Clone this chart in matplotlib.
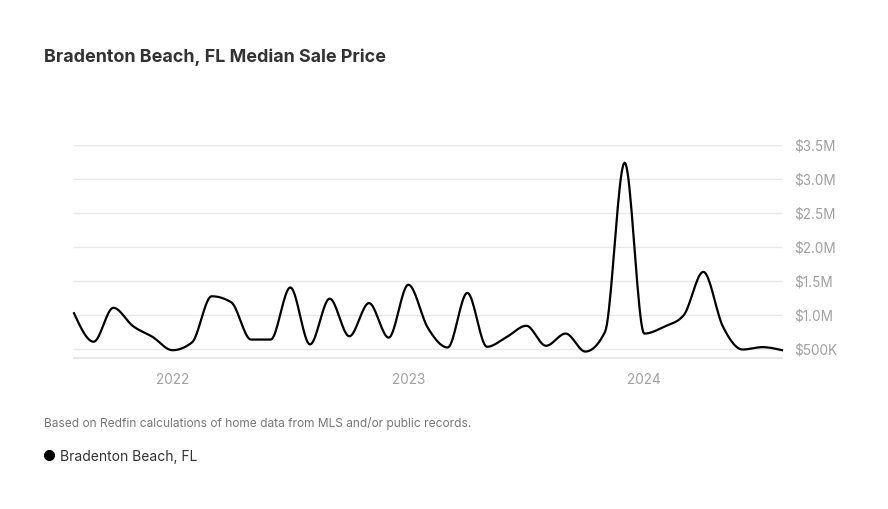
"""Bradenton Beach, FL median sale price, redrawn with matplotlib."""
import numpy as np
import matplotlib
matplotlib.use("Agg")
import matplotlib.pyplot as plt

# monthly median sale price, Aug 2021 .. Aug 2024 (USD)
months = np.arange(37)          # 0 = Aug 2021
prices = [1.02e6, 0.60e6, 1.10e6, 0.83e6, 0.67e6, 0.475e6, 0.59e6, 1.27e6,
          1.18e6, 0.632e6, 0.632e6, 1.40e6, 0.56e6, 1.235e6, 0.68e6, 1.17e6,
          0.66e6, 1.44e6, 0.80e6, 0.515e6, 1.32e6, 0.525e6, 0.67e6, 0.835e6,
          0.54e6, 0.72e6, 0.455e6, 0.745e6, 3.24e6, 0.72e6, 0.82e6, 0.99e6,
          1.63e6, 0.82e6, 0.485e6, 0.52e6, 0.475e6]
year_ticks = [5, 17, 29]
year_labels = ["2022", "2023", "2024"]
y_ticks = [0.5e6, 1.0e6, 1.5e6, 2.0e6, 2.5e6, 3.0e6, 3.5e6]
y_labels = ["$500K", "$1.0M", "$1.5M", "$2.0M", "$2.5M", "$3.0M", "$3.5M"]

FONT = "Inter"
GREY = "#a0a0a0"


def monotone_curve(x, y, n=20):
    """d3-style monotoneX cubic through the points (drawing only)."""
    x = np.asarray(x, float); y = np.asarray(y, float)
    h = np.diff(x); s = np.diff(y) / h
    m = np.zeros_like(y)
    for i in range(1, len(y) - 1):
        if s[i - 1] * s[i] > 0:
            p = (s[i - 1] * h[i] + s[i] * h[i - 1]) / (h[i - 1] + h[i])
            m[i] = np.sign(s[i - 1]) * min(2 * abs(s[i - 1]), 2 * abs(s[i]), abs(p))
    m[0] = (3 * s[0] - m[1]) / 2
    m[-1] = (3 * s[-1] - m[-2]) / 2
    xs, ys = [], []
    for i in range(len(h)):
        t = np.linspace(0, 1, n, endpoint=False)
        h00 = 2 * t**3 - 3 * t**2 + 1; h10 = t**3 - 2 * t**2 + t
        h01 = -2 * t**3 + 3 * t**2; h11 = t**3 - t**2
        xs.append(x[i] + t * h[i])
        ys.append(h00 * y[i] + h10 * h[i] * m[i] + h01 * y[i + 1] + h11 * h[i] * m[i + 1])
    xs.append([x[-1]]); ys.append([y[-1]])
    return np.concatenate(xs), np.concatenate(ys)


fig = plt.figure(figsize=(8.88, 5.09), dpi=100)
ax = fig.add_axes([74 / 888, 1 - 358 / 509, 708 / 888, 213 / 509])

cx, cy = monotone_curve(months, prices)
ax.plot(cx, cy, color="black", lw=1.6, clip_on=False, zorder=3)

ax.set_xlim(months[0], months[-1])
ax.set_ylim(0.36e6, 3.5e6)
ax.set_yticks(y_ticks)
ax.set_yticklabels(y_labels)
ax.set_xticks(year_ticks)
ax.set_xticklabels(year_labels)
ax.yaxis.tick_right()
ax.grid(axis="y", color="#e8e8e8", lw=1.0)
ax.set_axisbelow(True)
for side in ("top", "left", "right"):
    ax.spines[side].set_visible(False)
ax.spines["bottom"].set_color("#e2e2e2")
ax.spines["bottom"].set_linewidth(1.2)
ax.tick_params(length=0, labelsize=9.8, labelcolor=GREY)
ax.tick_params(axis="y", pad=9)
ax.tick_params(axis="x", pad=11)
for lab in ax.get_xticklabels() + ax.get_yticklabels():
    lab.set_family(FONT)

fig.text(44 / 888, 1 - 57 / 509, "Bradenton Beach, FL Median Sale Price",
         family=FONT, weight="bold", fontsize=12.9, color="#333333", va="center")
fig.text(44 / 888, 1 - 423 / 509,
         "Based on Redfin calculations of home data from MLS and/or public records.",
         family=FONT, fontsize=8.6, color="#777777", va="center")
fig.lines.append(plt.Line2D([49 / 888], [1 - 455 / 509], marker="o", ms=7,
                            color="black", transform=fig.transFigure))
fig.text(60 / 888, 1 - 457 / 509, "Bradenton Beach, FL",
         family=FONT, fontsize=10.0, color="#333333", va="center")

fig.savefig("out.png", dpi=100)
